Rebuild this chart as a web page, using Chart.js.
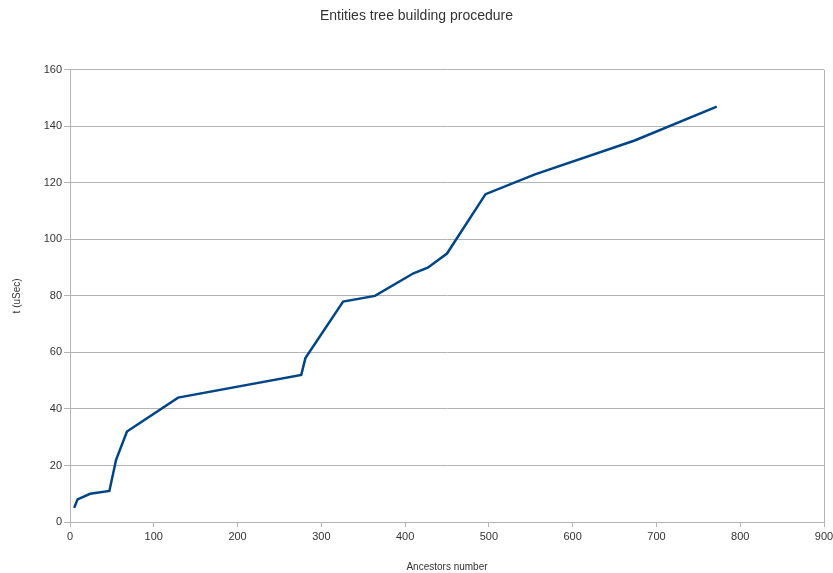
<!DOCTYPE html>
<html>
<head>
<meta charset="utf-8">
<script src="https://cdn.jsdelivr.net/npm/chart.js@4/dist/chart.umd.min.js"></script>
<style>
  html, body { margin: 0; padding: 0; background: #fff; }
  #wrap { width: 833px; height: 573px; }
</style>
</head>
<body>
<div id="wrap"><canvas id="chart" width="833" height="573"></canvas></div>
<script>
// ancestors count vs. build time
var ancestors = [5, 9, 24, 47, 55, 68, 129, 276, 281, 326, 364, 410, 427, 450, 496, 555, 674, 772];
var timeUsec  = [5, 8, 10, 11, 22, 32, 44, 52, 58, 78, 80, 88, 90, 95, 116, 123, 135, 147];
var xTicks = [0, 100, 200, 300, 400, 500, 600, 700, 800, 900];
var yTicks = [0, 20, 40, 60, 80, 100, 120, 140, 160];

var gridColor = '#b3b3b3';
var textColor = '#333333';

var points = ancestors.map(function (a, i) { return { x: a, y: timeUsec[i] }; });

// right edge of the plot frame
var frameRight = {
  id: 'frameRight',
  afterDraw: function (chart) {
    var a = chart.chartArea, ctx = chart.ctx;
    ctx.save();
    ctx.strokeStyle = gridColor;
    ctx.lineWidth = 1;
    ctx.beginPath();
    ctx.moveTo(Math.round(a.right) + 0.5, a.top);
    ctx.lineTo(Math.round(a.right) + 0.5, a.bottom);
    ctx.stroke();
    ctx.restore();
  }
};

new Chart(document.getElementById('chart').getContext('2d'), {
  type: 'line',
  data: {
    datasets: [{
      data: points,
      borderColor: '#004586',
      borderWidth: 2.5,
      pointRadius: 0,
      fill: false,
      tension: 0
    }]
  },
  options: {
    responsive: false,
    animation: false,
    layout: { padding: { left: 0, right: 0, top: 0, bottom: 0 } },
    plugins: {
      legend: { display: false },
      tooltip: { enabled: false },
      title: {
        display: true,
        text: 'Entities tree building procedure',
        color: textColor,
        font: { family: 'Liberation Sans', size: 14, weight: 'normal' },
        padding: { top: 8, bottom: 45 }
      }
    },
    scales: {
      x: {
        type: 'linear',
        min: 0, max: 900,
        afterBuildTicks: function (s) { s.ticks = xTicks.map(function (v) { return { value: v }; }); },
        afterFit: function (s) { s.height = 51; s.paddingLeft = 0; s.paddingRight = 9; },
        grid: { drawOnChartArea: false, color: gridColor, tickLength: 5, tickColor: gridColor },
        border: { color: gridColor },
        ticks: { color: textColor, padding: 3, maxRotation: 0, font: { family: 'Liberation Sans', size: 11 } },
        title: {
          display: true, text: 'Ancestors number', color: textColor,
          font: { family: 'Liberation Sans', size: 10 }, padding: { top: 14, bottom: 0 }
        }
      },
      y: {
        min: 0, max: 160,
        afterBuildTicks: function (s) { s.ticks = yTicks.map(function (v) { return { value: v }; }); },
        afterFit: function (s) { s.width = 70; },
        grid: { color: gridColor, tickLength: 6, tickColor: gridColor },
        border: { color: gridColor },
        ticks: { color: textColor, padding: 2, font: { family: 'Liberation Sans', size: 11 } },
        title: {
          display: true, text: 't (uSec)', color: textColor,
          font: { family: 'Liberation Sans', size: 10 }, padding: { top: 11, bottom: 0 }
        }
      }
    }
  },
  plugins: [frameRight]
});
</script>
</body>
</html>
